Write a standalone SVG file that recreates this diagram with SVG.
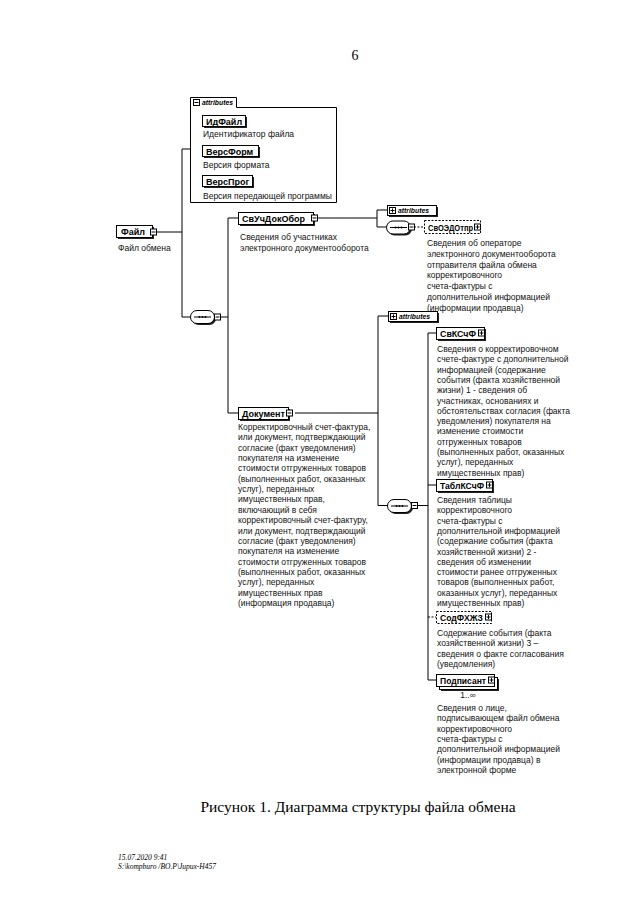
<svg xmlns="http://www.w3.org/2000/svg" xmlns:xlink="http://www.w3.org/1999/xlink" width="640" height="905" viewBox="0 0 640 905">
<style>
.t{font-family:"Liberation Sans",Arial,sans-serif;font-size:8.5px;fill:#111}
.n{font-family:"Liberation Sans",Arial,sans-serif;font-size:9px;font-weight:bold;fill:#000}
.m{font-family:"Liberation Sans",Arial,sans-serif;font-size:9px;font-weight:bold;fill:#000}
.a{font-family:"Liberation Sans",Arial,sans-serif;font-size:6.8px;font-style:italic;font-weight:bold;fill:#000}
.box{fill:#fff;stroke:#000;stroke-width:1}
.dbox{fill:#fff;stroke:#000;stroke-width:1;stroke-dasharray:2 1.5}
.sh{fill:#222}
.ln{fill:none;stroke:#000;stroke-width:1}
.dl{fill:none;stroke:#000;stroke-width:1;stroke-dasharray:2 1.5}
.serif{font-family:"Liberation Serif","Times New Roman",serif;fill:#000}
</style>
<defs>
<g id="im"><rect x="0.5" y="0.5" width="6" height="6" fill="#fff" stroke="#000"/><line x1="1.5" y1="3.5" x2="5.5" y2="3.5" stroke="#000"/></g>
<g id="ip"><rect x="0.5" y="0.5" width="6" height="6" fill="#fff" stroke="#000"/><line x1="1.5" y1="3.5" x2="5.5" y2="3.5" stroke="#000"/><line x1="3.5" y1="1.5" x2="3.5" y2="5.5" stroke="#000"/></g>
<g id="seq"><rect x="2" y="2" width="24" height="13" rx="6.5" class="sh"/><rect x="0.5" y="0.5" width="24" height="13" rx="6.5" class="box"/><line x1="4" y1="7" x2="21" y2="7" stroke="#000"/><circle cx="9.5" cy="7" r="1" fill="#000"/><circle cx="12.5" cy="7" r="1" fill="#000"/><circle cx="15.5" cy="7" r="1" fill="#000"/></g>
</defs>
<rect width="640" height="905" fill="#fff"/>
<text class="serif" x="355" y="60" font-size="14" text-anchor="middle">6</text>

<g id="connectors">
<path class="ln" d="M190,149H182V317H190"/>
<path class="ln" d="M157,232H182"/>
<path class="ln" d="M221,317H228"/>
<path class="ln" d="M238,218H228V413H238"/>
<path class="ln" d="M318,218H377"/>
<path class="ln" d="M387,210H377V227H387"/>
<path class="dl" d="M414,227H424"/>
<path class="ln" d="M295,413H378"/>
<path class="ln" d="M388,316H378V505.5H388"/>
<path class="ln" d="M418,505.5H428"/>
<path class="ln" d="M436,333H428V680H436"/>
<path class="ln" d="M428,485H436"/>
<path class="dl" d="M428,617H436"/>
</g>

<g id="attributes-file">
<path class="ln" d="M190.5,97.5H236.5V107.5H336.5V202.5H190.5Z"/>
<use xlink:href="#im" x="193" y="99"/>
<text class="a" x="202" y="105">attributes</text>
<rect class="sh" x="204" y="117" width="43" height="11"/>
<rect class="box" x="202.5" y="115.5" width="43" height="11"/>
<text class="n" x="206" y="124.5">ИдФайл</text>
<text class="t" x="203" y="137">Идентификатор файла</text>
<rect class="sh" x="204" y="147" width="56" height="11"/>
<rect class="box" x="202.5" y="145.5" width="56" height="11"/>
<text class="n" x="206" y="154.5">ВерсФорм</text>
<text class="t" x="203" y="168">Версия формата</text>
<rect class="sh" x="204" y="177" width="50" height="11"/>
<rect class="box" x="202.5" y="175.5" width="50" height="11"/>
<text class="n" x="206" y="184.5">ВерсПрог</text>
<text class="t" x="203" y="199">Версия передающей программы</text>
</g>

<g id="file">
<rect class="sh" x="118" y="227" width="36" height="12"/>
<rect class="box" x="116.5" y="225.5" width="36" height="12"/>
<text class="n" x="121" y="234.5">Файл</text>
<use xlink:href="#im" x="150" y="228.5"/>
<text class="t" x="118" y="251">Файл обмена</text>
</g>

<g id="seq1"><use xlink:href="#seq" x="190" y="310"/><use xlink:href="#im" x="214" y="313.5"/></g>

<g id="svuchdokobor">
<rect class="sh" x="240" y="214" width="75" height="12"/>
<rect class="box" x="238.5" y="212.5" width="75" height="12"/>
<text class="n" x="242" y="221.5">СвУчДокОбор</text>
<use xlink:href="#im" x="311" y="214.5"/>
<text class="t" x="240" y="240">Сведения об участниках</text>
<text class="t" x="240" y="250.5">электронного документооборота</text>
</g>

<g id="attributes-svuch">
<rect class="sh" x="389" y="207" width="49" height="10"/>
<rect class="box" x="387.5" y="205.5" width="49" height="10"/>
<use xlink:href="#ip" x="389" y="207"/>
<text class="a" x="398" y="213">attributes</text>
</g>

<g id="seq2"><use xlink:href="#seq" x="386" y="220.5"/><use xlink:href="#im" x="408" y="223.5"/></g>

<g id="svoedotpr">
<rect class="dbox" x="424.5" y="220.5" width="56" height="13"/>
<text class="m" x="428" y="230.5" textLength="45" lengthAdjust="spacingAndGlyphs">СвОЭДОтпр</text>
<use xlink:href="#ip" x="474" y="223.5"/>
<text class="t" x="427" y="246">Сведения об операторе</text>
<text class="t" x="427" y="256.8">электронного документооборота</text>
<text class="t" x="427" y="267.6">отправителя файла обмена</text>
<text class="t" x="427" y="278.4">корректировочного</text>
<text class="t" x="427" y="289.2">счета-фактуры с</text>
<text class="t" x="427" y="300">дополнительной информацией</text>
<text class="t" x="427" y="310.8">(информации продавца)</text>
</g>

<g id="attributes-doc">
<rect class="sh" x="390" y="313" width="49" height="10"/>
<rect class="box" x="388.5" y="311.5" width="49" height="10"/>
<use xlink:href="#ip" x="390" y="313"/>
<text class="a" x="399" y="319">attributes</text>
</g>

<g id="dokument">
<rect class="sh" x="240" y="409" width="50" height="12"/>
<rect class="box" x="238.5" y="407.5" width="50" height="12"/>
<text class="n" x="242" y="416.5">Документ</text>
<use xlink:href="#im" x="286" y="409.5"/>
<text class="t" x="238" y="430">Корректировочный счет-фактура,</text>
<text class="t" x="238" y="440.35">или документ, подтверждающий</text>
<text class="t" x="238" y="450.7">согласие (факт уведомления)</text>
<text class="t" x="238" y="461.05">покупателя на изменение</text>
<text class="t" x="238" y="471.4">стоимости отгруженных товаров</text>
<text class="t" x="238" y="481.75">(выполненных работ, оказанных</text>
<text class="t" x="238" y="492.1">услуг), переданных</text>
<text class="t" x="238" y="502.45">имущественных прав,</text>
<text class="t" x="238" y="512.8">включающий в себя</text>
<text class="t" x="238" y="523.15">корректировочный счет-фактуру,</text>
<text class="t" x="238" y="533.5">или документ, подтверждающий</text>
<text class="t" x="238" y="543.85">согласие (факт уведомления)</text>
<text class="t" x="238" y="554.2">покупателя на изменение</text>
<text class="t" x="238" y="564.55">стоимости отгруженных товаров</text>
<text class="t" x="238" y="574.9">(выполненных работ, оказанных</text>
<text class="t" x="238" y="585.25">услуг), переданных</text>
<text class="t" x="238" y="595.6">имущественных прав</text>
<text class="t" x="238" y="605.95">(информация продавца)</text>
</g>

<g id="seq3"><use xlink:href="#seq" x="387" y="499"/><use xlink:href="#im" x="411" y="502"/></g>

<g id="svkschf">
<rect class="sh" x="438" y="329" width="48" height="12"/>
<rect class="box" x="436.5" y="327.5" width="48" height="12"/>
<text class="m" x="440" y="336.5" textLength="36" lengthAdjust="spacingAndGlyphs">СвКСчФ</text>
<use xlink:href="#ip" x="478" y="329.5"/>
<text class="t" x="437" y="352">Сведения о корректировочном</text>
<text class="t" x="437" y="362.3">счете-фактуре с дополнительной</text>
<text class="t" x="437" y="372.6">информацией (содержание</text>
<text class="t" x="437" y="382.9">события (факта хозяйственной</text>
<text class="t" x="437" y="393.2">жизни) 1 - сведения об</text>
<text class="t" x="437" y="403.5">участниках, основаниях и</text>
<text class="t" x="437" y="413.8">обстоятельствах согласия (факта</text>
<text class="t" x="437" y="424.1">уведомления) покупателя на</text>
<text class="t" x="437" y="434.4">изменение стоимости</text>
<text class="t" x="437" y="444.7">отгруженных товаров</text>
<text class="t" x="437" y="455">(выполненных работ, оказанных</text>
<text class="t" x="437" y="465.3">услуг), переданных</text>
<text class="t" x="437" y="475.6">имущественных прав)</text>
</g>

<g id="tablkschf">
<rect class="sh" x="438" y="481" width="56" height="12"/>
<rect class="box" x="436.5" y="479.5" width="56" height="12"/>
<text class="m" x="440" y="488.5" textLength="44" lengthAdjust="spacingAndGlyphs">ТаблКСчФ</text>
<use xlink:href="#ip" x="486" y="481.5"/>
<text class="t" x="437" y="503">Сведения таблицы</text>
<text class="t" x="437" y="513.3">корректировочного</text>
<text class="t" x="437" y="523.6">счета-фактуры с</text>
<text class="t" x="437" y="533.9">дополнительной информацией</text>
<text class="t" x="437" y="544.2">(содержание события (факта</text>
<text class="t" x="437" y="554.5">хозяйственной жизни) 2 -</text>
<text class="t" x="437" y="564.8">сведения об изменении</text>
<text class="t" x="437" y="575.1">стоимости ранее отгруженных</text>
<text class="t" x="437" y="585.4">товаров (выполненных работ,</text>
<text class="t" x="437" y="595.7">оказанных услуг), переданных</text>
<text class="t" x="437" y="606">имущественных прав)</text>
</g>

<g id="sodfhzhz">
<rect class="dbox" x="436.5" y="611.5" width="55" height="12"/>
<text class="m" x="440" y="620.5" textLength="43" lengthAdjust="spacingAndGlyphs">СодФХЖЗ</text>
<use xlink:href="#ip" x="485" y="613.5"/>
<text class="t" x="437" y="636">Содержание события (факта</text>
<text class="t" x="437" y="646.3">хозяйственной жизни) 3 –</text>
<text class="t" x="437" y="656.6">сведения о факте согласования</text>
<text class="t" x="437" y="666.9">(уведомления)</text>
</g>

<g id="podpisant">
<rect class="sh" x="441" y="679" width="58" height="12"/>
<rect class="box" x="439.5" y="677.5" width="58" height="12"/>
<rect class="box" x="436.5" y="674.5" width="58" height="12"/>
<text class="m" x="440" y="683.5" textLength="46" lengthAdjust="spacingAndGlyphs">Подписант</text>
<use xlink:href="#ip" x="488" y="676.5"/>
<text class="t" x="468" y="698" text-anchor="middle">1..∞</text>
<text class="t" x="437" y="711">Сведения о лице,</text>
<text class="t" x="437" y="721.3">подписывающем файл обмена</text>
<text class="t" x="437" y="731.6">корректировочного</text>
<text class="t" x="437" y="741.9">счета-фактуры с</text>
<text class="t" x="437" y="752.2">дополнительной информацией</text>
<text class="t" x="437" y="762.5">(информации продавца) в</text>
<text class="t" x="437" y="772.8">электронной форме</text>
</g>

<text class="serif" x="358" y="812" font-size="15.5" text-anchor="middle">Рисунок 1. Диаграмма структуры файла обмена</text>
<text class="serif" x="118" y="860" font-size="7.5" font-style="italic">15.07.2020 9:41</text>
<text class="serif" x="118" y="869" font-size="7.5" font-style="italic">S:\kompburo /BO.P\Jupux-H457</text>
</svg>
